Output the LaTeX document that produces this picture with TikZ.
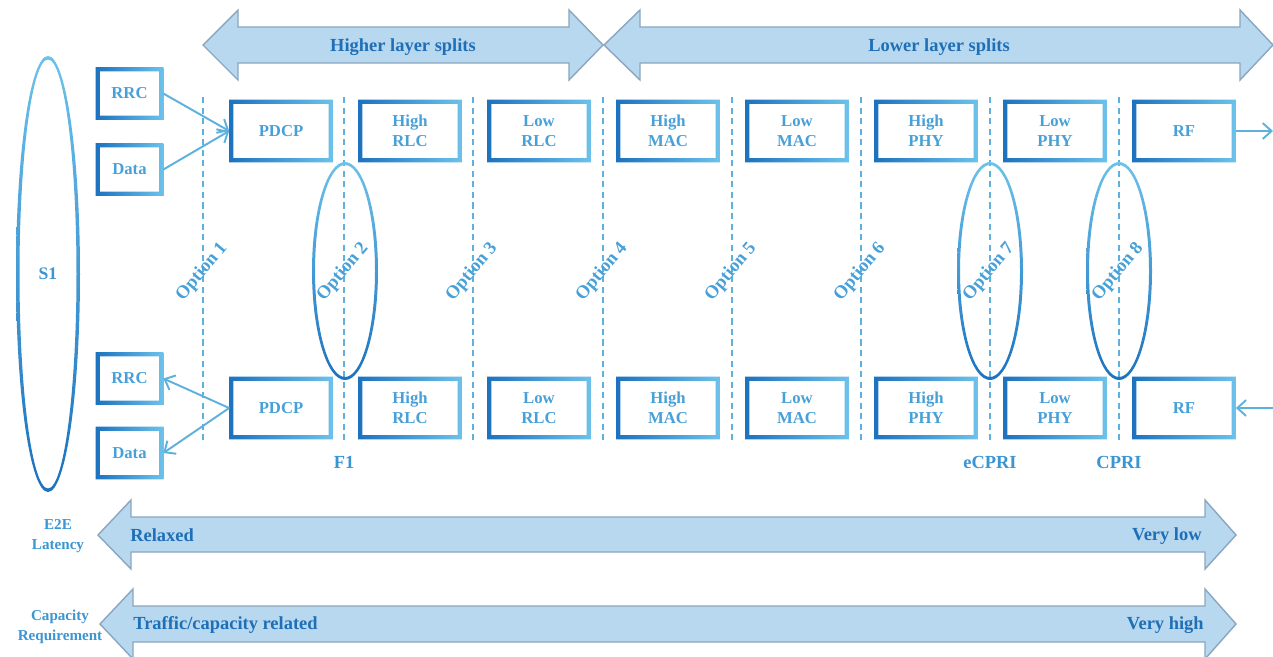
\documentclass[tikz,border=0pt]{standalone}
\usepackage{fontspec}
\setmainfont{Liberation Serif}
\usetikzlibrary{arrows.meta}
\definecolor{vdark}{HTML}{1C72BE}
\definecolor{vlight}{HTML}{6CC2EA}
\definecolor{vtext}{HTML}{47A0D8}
\definecolor{vmid}{HTML}{3A95D2}
\definecolor{vtitle}{HTML}{1F6FB7}
\definecolor{vfill}{HTML}{B8D8EF}
\definecolor{vedge}{HTML}{8AA6C0}
\definecolor{vdash}{HTML}{5EB1DD}

\tikzset{
  blk/.style={minimum width=2.06cm, minimum height=1.24cm, inner sep=0pt, align=center,
    text=vtext, font=\bfseries\fontsize{9.5}{11.3}\selectfont},
  smallblk/.style={blk, minimum width=1.34cm, minimum height=1.04cm},
  frame/.style={even odd rule, left color=vdark, right color=vlight},
  oval/.style={even odd rule, top color=vlight, bottom color=vdark},
  bigarrow/.style={fill=vfill, draw=vedge, line width=0.8pt},
  link/.style={draw=vdash, line width=1.1pt, -{Straight Barb[length=5pt,width=9pt]}},
  cut/.style={draw=vdash, line width=0.7pt, dash pattern=on 3.5pt off 2.5pt},
  opt/.style={text=vtext, rotate=50, font=\bfseries\fontsize{10.5}{12}\selectfont},
  lbl/.style={text=vmid, align=center, font=\bfseries\fontsize{8.6}{11.5}\selectfont},
  title/.style={text=vtitle, inner sep=0pt, font=\bfseries\fontsize{10.5}{12}\selectfont},
}
\newcommand\stackframe[1]{\shade[frame] (#1.south west) rectangle (#1.north east)
  ([shift={(2.4pt,2.4pt)}]#1.south west) rectangle ([shift={(-2.4pt,-2.4pt)}]#1.north east);}

\begin{document}
\begin{tikzpicture}[x=0.02cm, y=-0.02cm]
	\fill[white] (0,0) rectangle (1273,656);
	\useasboundingbox (0,0) rectangle (1273,656);

	% split ranges
	\draw[bigarrow] (203,45) -- (238,10) -- (238,27) -- (569,27) -- (569,10) -- (603,45) -- (569,80) -- (569,63) -- (238,63) -- (238,80) -- cycle;
	\draw[bigarrow] (604,45) -- (640,10) -- (640,27) -- (1240,27) -- (1240,10) -- (1273,45) -- (1240,80) -- (1240,63) -- (640,63) -- (640,80) -- cycle;
	\node[title] (higher) at (403,47) {Higher layer splits};
	\node[title] (lower) at (939,47) {Lower layer splits};

	% split points
	\foreach \x/\k in {203/1,344/2,473/3,603/4,732/5,861/6,990/7,1119/8}{
		\draw[cut] (\x,97) -- (\x,443);
	}
	\shade[oval] (48,274) ellipse [x radius=32, y radius=218] (48,274) ellipse [x radius=28.5, y radius=214.5];
	\foreach \x in {345,990,1119}{
		\shade[oval] (\x,271) ellipse [x radius=33, y radius=109] (\x,271) ellipse [x radius=30, y radius=106];
	}
	\foreach \x/\k in {203/1,344/2,473/3,603/4,732/5,861/6,990/7,1119/8}{
		\node[opt] (opt\k) at (\x-1,272) {Option \k};
	}

	% protocol stack
	\foreach \i/\t in {0/PDCP,1/High\\RLC,2/Low\\RLC,3/High\\MAC,4/Low\\MAC,5/High\\PHY,6/Low\\PHY,7/RF}{
		\node[blk] (u\i) at (281+129*\i,131) {\t};
		\node[blk] (d\i) at (281+129*\i,408) {\t};
		\stackframe{u\i}
		\stackframe{d\i}
	}
	\node[smallblk] (rrcU) at (129.5,93.5) {RRC};
	\node[smallblk] (dataU) at (129.5,169.5) {Data};
	\node[smallblk] (rrcD) at (129.5,378.5) {RRC};
	\node[smallblk] (dataD) at (129.5,453) {Data};
	\foreach \n in {rrcU,dataU,rrcD,dataD}{\stackframe{\n}}

	\coordinate (rfout) at (1273,131);
	\coordinate (rfin) at (1273,408);
	\draw[link] (rrcU.east) -- (u0.west);
	\draw[link] (dataU.east) -- (u0.west);
	\draw[link] (d0.west) -- (rrcD.east);
	\draw[link] (d0.west) -- (dataD.east);
	\draw[link] (u7.east) -- (rfout);
	\draw[link] (rfin) -- (d7.east);

	\node[lbl, font=\bfseries\fontsize{10}{12}\selectfont] (s1) at (48,274) {S1};
	\node[lbl, font=\bfseries\fontsize{10.5}{12}\selectfont] (f1) at (344,462) {F1};
	\node[lbl, font=\bfseries\fontsize{10.5}{12}\selectfont] (ecpri) at (990,462) {eCPRI};
	\node[lbl, font=\bfseries\fontsize{10.5}{12}\selectfont] (cpri) at (1119,462) {CPRI};

	% requirements
	\draw[bigarrow] (98,535) -- (131,500) -- (131,517) -- (1205,517) -- (1205,500) -- (1236,535) -- (1205,569) -- (1205,552) -- (131,552) -- (131,569) -- cycle;
	\draw[bigarrow] (100,624) -- (133,589) -- (133,606) -- (1205,606) -- (1205,589) -- (1236,624) -- (1205,659) -- (1205,642) -- (133,642) -- (133,659) -- cycle;
	\node[title, anchor=west] (relaxed) at (130,535) {Relaxed};
	\node[title, anchor=east] (verylow) at (1202,536) {Very low};
	\node[title, anchor=west] (traffic) at (133,625) {Traffic/capacity related};
	\node[title, anchor=east] (veryhigh) at (1204,625) {Very high};
	\node[lbl] (e2e) at (58,536) {E2E\\Latency};
	\node[lbl] (capreq) at (60,627) {Capacity\\Requirement};
\end{tikzpicture}
\end{document}
